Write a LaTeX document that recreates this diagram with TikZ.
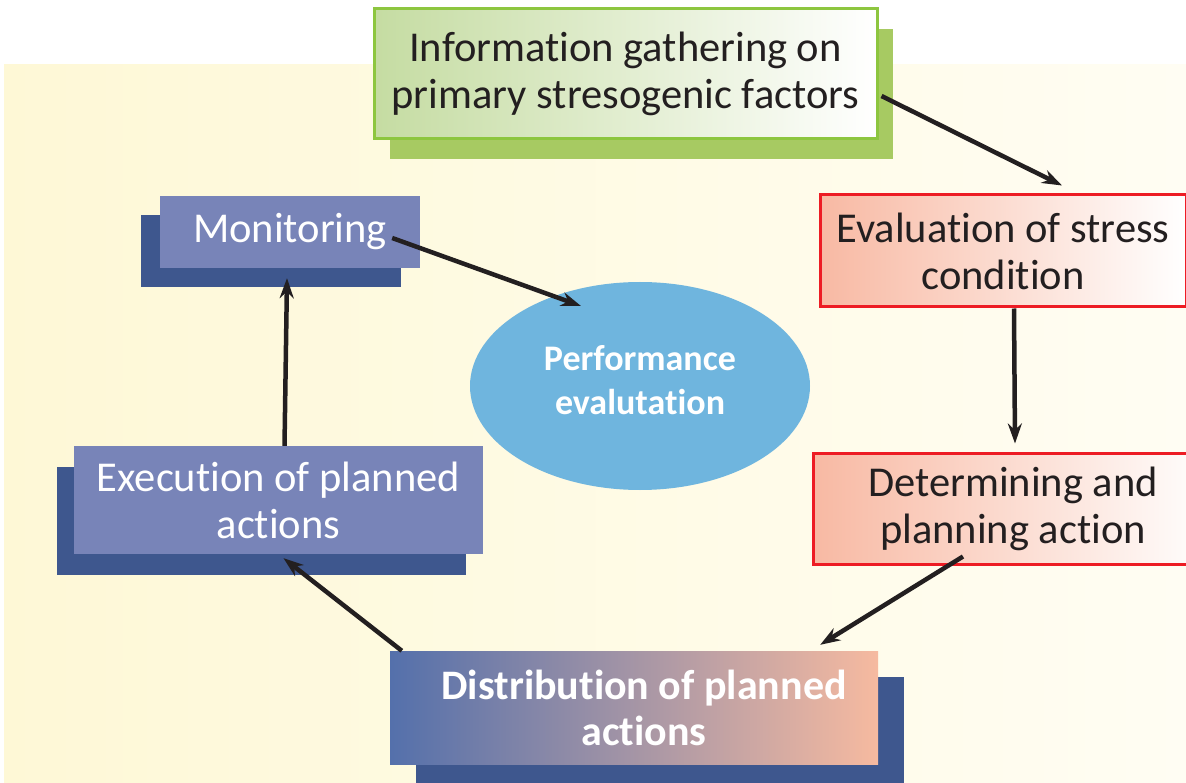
\documentclass[tikz,border=0pt]{standalone}
\usepackage{fontspec}
\setmainfont{Carlito}[Ligatures={NoCommon,NoContextual}]
\usetikzlibrary{shapes,shadows,arrows.meta}

\definecolor{bgleft}{HTML}{FEF8D6}
\definecolor{bgright}{HTML}{FFFDF3}
\definecolor{infofill}{HTML}{C5DCA2}
\definecolor{infoline}{HTML}{8DC63F}
\definecolor{infoshadow}{HTML}{A7CA62}
\definecolor{evalfill}{HTML}{F8B9A3}
\definecolor{evalline}{HTML}{ED1C24}
\definecolor{actfill}{HTML}{7884B8}
\definecolor{actshadow}{HTML}{3E578E}
\definecolor{distleft}{HTML}{5470AB}
\definecolor{distmid}{HTML}{AE8FA2}
\definecolor{distright}{HTML}{F6BAA0}
\definecolor{perffill}{HTML}{6FB5DE}
\definecolor{ink}{HTML}{231F20}

\tikzset{
  box/.style={rectangle, align=center, inner sep=0pt, text=ink,
    font=\fontsize{42.5}{47}\selectfont},
  infobox/.style={box, draw=infoline, line width=3pt,
    left color=infofill, right color=white,
    general shadow={fill=infoshadow, shadow xshift=16pt, shadow yshift=-20pt}},
  evalbox/.style={box, draw=evalline, line width=3pt,
    left color=evalfill, right color=white},
  actbox/.style={box, fill=actfill, text=white},
  distbox/.style={box, text=white, font=\fontsize{42}{46}\selectfont\bfseries,
    left color=distleft, middle color=distmid, right color=distright,
    general shadow={fill=actshadow, shadow xshift=26pt, shadow yshift=-26pt}},
  perfnode/.style={ellipse, fill=perffill, text=white, align=center, inner sep=0pt,
    font=\fontsize{36}{44}\selectfont\bfseries}
}

\begin{document}
\begin{tikzpicture}[auto, ->, x=1pt, y=-1pt, >={Stealth[length=20pt, width=14pt]},
    every edge/.style={draw=ink, line width=4.5pt}]
            \useasboundingbox (0,0) rectangle (1186,783);
            \fill[left color=bgleft, right color=bgright] (4,65) rectangle (1186,783);

            \node (info) [infobox, minimum width=503pt, minimum height=130pt]
              at (625.5,74) {Information gathering on\\primary stresogenic factors};
            \node (eval) [evalbox, minimum width=366pt, minimum height=112pt]
              at (1003,251) {Evaluation of stress\\condition};
            \node (plan) [evalbox, minimum width=400pt, minimum height=111pt]
              at (1013,508.5) {Determining and\\planning action};
            \node (dist) [distbox, minimum width=488pt, minimum height=113pt]
              at (634,707.5) {\hspace*{20pt}Distribution of planned\\\hspace*{20pt}actions};
            \node (exec) [actbox, minimum width=409pt, minimum height=108pt,
              general shadow={fill=actshadow, shadow xshift=-17pt, shadow yshift=-21pt}]
              at (278.5,500) {Execution of planned\\actions};
            \node (mon) [actbox, minimum width=260pt, minimum height=72pt,
              general shadow={fill=actshadow, shadow xshift=-19pt, shadow yshift=-19pt}]
              at (290,232) {Monitoring};
            \node (perf) [perfnode, minimum width=340pt, minimum height=208pt]
              at (640,386) {Performance\\evalutation\\[-31pt]};

            \path ([shift={(3,22)}]info.east) edge ([shift={(59,-8)}]eval.north);
            \path ([shift={(11,0)}]eval.south) edge ([shift={(2,-8)}]plan.north);
            \path ([shift={(-50,-9)}]plan.south) edge ([shift={(-58,-6)}]dist.north east);
            \path ([shift={(12,0)}]dist.north west) edge ([shift={(5,4)}]exec.south);
            \path ([shift={(6,0)}]exec.north) edge ([shift={(-3,10)}]mon.south);
            \path ([shift={(-28,6)}]mon.east) edge ([shift={(-59,-80)}]perf.center);
            \end{tikzpicture}
\end{document}
